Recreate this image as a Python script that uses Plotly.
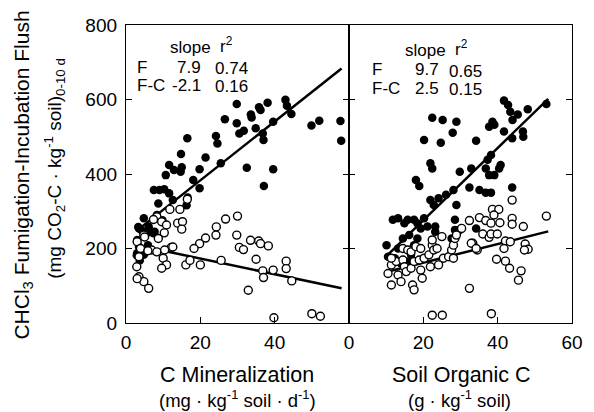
import plotly.graph_objects as go
from plotly.subplots import make_subplots

# ---- data -------------------------------------------------------------
# Left panel: C mineralization (mg kg-1 soil d-1) vs flush
left_F_x = [29.8, 35.8, 38.1, 42.9, 43.3, 44.5, 33.6, 33.8, 36.2, 26.6, 29.8, 30.5, 31.7,
            34.9, 36.8, 37.0, 39.6, 49.9, 52.0, 57.7, 57.9, 16.5, 24.2, 24.6, 21.4, 14.8,
            11.6, 12.9, 15.0, 14.7, 10.7, 19.8, 25.5, 32.5, 39.6, 37.1, 18.1, 19.8,
            7.5, 9.0, 10.3, 11.6, 8.7, 12.6, 16.3, 16.6, 4.8, 3.3, 3.5, 6.1, 4.2, 5.5,
            6.3, 7.4, 4.8, 3.5, 3.0, 4.8, 8.3, 3.0, 2.9, 3.7, 7.7, 9.8, 5.9]
left_F_y = [588, 579, 591, 599, 583, 561, 560, 552, 572, 547, 536, 509, 516,
            523, 509, 491, 540, 530, 543, 542, 489, 496, 502, 482, 444, 454,
            424, 411, 418, 406, 397, 413, 429, 417, 413, 368, 384, 362,
            357, 357, 359, 348, 321, 330, 316, 337, 281, 258, 254, 259, 249, 240,
            249, 241, 232, 205, 187, 183, 290, 223, 182, 168, 245, 276, 209]

left_FC_x = [30.0, 26.8, 24.3, 24.2, 21.4, 19.8, 18.3, 29.8, 30.5, 31.6, 33.5, 35.7, 36.2,
             38.3, 25.6, 35.0, 36.8, 37.0, 39.6, 43.1, 43.1, 44.6, 32.9, 39.8, 50.0, 52.3,
             16.5, 14.5, 11.8, 8.3, 7.4, 9.6, 10.9, 13.9, 15.2, 15.0, 8.7, 10.3, 4.8,
             3.0, 3.9, 3.5, 2.9, 3.5, 4.8, 6.1, 6.9, 8.3, 10.0, 10.9, 9.6, 12.2, 10.4,
             16.1, 20.0, 12.6, 17.2, 5.9, 3.0, 5.0]
left_FC_y = [287, 279, 258, 236, 228, 213, 200, 236, 203, 197, 222, 220, 213,
             207, 168, 171, 140, 122, 142, 166, 146, 113, 88, 14, 25, 18,
             332, 305, 305, 285, 278, 272, 263, 268, 272, 252, 227, 242, 236,
             218, 200, 178, 151, 124, 111, 93, 196, 191, 174, 156, 147, 203, 196,
             156, 156, 204, 168, 194, 119, 231]

# Right panel: soil organic C (g kg-1 soil) vs flush
right_F_x = [41.7, 42.8, 43.4, 44.0, 45.4, 48.1, 53.1, 22.4, 25.2, 28.9, 27.9, 20.2, 24.7,
             34.2, 38.6, 39.1, 37.7, 41.7, 43.9, 46.8, 46.9, 38.2, 37.3, 40.8, 40.4, 36.8,
             37.7, 39.1, 21.9, 22.4, 18.0, 18.9, 29.8, 32.9, 26.1, 28.1, 32.4, 35.1, 36.8,
             38.2, 43.9, 21.9, 22.8, 24.1, 28.9,
             11.8, 13.2, 14.9, 15.8, 17.5, 18.4, 19.3, 20.2, 21.1, 23.2, 23.2, 28.5, 28.5,
             29.8, 27.6, 10.1, 10.5, 12.3, 14.0, 15.8, 16.7, 13.2, 17.5, 18.4, 16.2, 14.5,
             34.2]
right_F_y = [597, 585, 567, 545, 560, 574, 588, 551, 545, 540, 511, 491, 484,
             489, 540, 532, 527, 514, 496, 514, 500, 451, 438, 424, 415, 415,
             397, 397, 429, 415, 384, 368, 406, 415, 344, 357, 364, 357, 350,
             350, 364, 330, 317, 335, 317,
             277, 281, 268, 277, 277, 268, 254, 281, 259, 259, 245, 277, 250,
             250, 227, 209, 178, 174, 160, 165, 183, 200, 209, 227, 236, 227,
             254]

right_FC_x = [43.9, 53.1, 38.6, 40.3, 39.0, 35.1, 36.8, 38.2, 40.6, 43.9, 43.9, 46.9, 32.4,
              36.0, 37.7, 38.2, 39.9, 42.1, 43.4, 41.7, 47.4, 48.2, 47.2, 33.3, 34.5, 39.7,
              42.1, 43.2, 46.3, 45.6, 32.4, 38.3, 22.4, 25.1,
              11.4, 10.5, 11.4, 13.2, 12.7, 14.5, 14.9, 15.4, 14.0, 16.7, 17.5, 18.9, 19.3,
              19.7, 17.1, 17.5, 20.2, 21.5, 22.4, 22.8, 23.7, 24.1, 21.9, 25.4, 26.8, 28.1,
              27.6, 28.1, 28.5, 28.9, 30.3, 32.9, 34.2, 11.4, 14.5, 15.8, 16.7, 18.0, 19.3,
              25.0, 22.4]
right_FC_y = [330, 287, 305, 305, 290, 283, 275, 268, 269, 281, 265, 259, 275,
              239, 230, 239, 239, 220, 218, 200, 212, 198, 196, 214, 196, 171,
              166, 147, 140, 115, 93, 25, 21, 21,
              156, 133, 102, 129, 165, 169, 151, 138, 111, 147, 165, 169, 142,
              120, 102, 89, 174, 183, 209, 196, 200, 156, 151, 174, 178, 174,
              196, 209, 227, 236, 254, 214, 200, 174, 200, 196, 191, 205, 200,
              232, 223]

# Regression summaries: slope, r2, intercept, fitted x-span
left_slope = [7.9, -2.1]
left_r2 = [0.74, 0.16]
left_icpt = [225, 215]
left_span = [[3, 58], [3, 58]]

right_slope = [9.7, 2.5]
right_r2 = [0.65, 0.15]
right_icpt = [82, 112]
right_span = [[10, 53.6], [10, 53.6]]

x_ticks_left = [0, 20, 40]
x_ticks_right = [0, 20, 40, 60]
y_ticks = [0, 200, 400, 600, 800]

# ---- figure -----------------------------------------------------------
FONT = "Liberation Sans, Arial, Helvetica, sans-serif"
W, H = 594, 412
L, R, T, B = 126, 583, 25, 323

fig = make_subplots(rows=1, cols=2, shared_yaxes=True, horizontal_spacing=0)

filled = dict(color="black", size=8.5, line=dict(width=0))
hollow = dict(color="white", size=8, line=dict(color="black", width=1.4))


def add_panel(col, fx, fy, cx, cy, slopes, icpts, spans):
    fig.add_trace(go.Scatter(x=fx, y=fy, mode="markers", marker=filled,
                             showlegend=False, cliponaxis=False), row=1, col=col)
    for s, b, (x0, x1) in zip(slopes, icpts, spans):
        fig.add_trace(go.Scatter(x=[x0, x1], y=[b + s * x0, b + s * x1], mode="lines",
                                 line=dict(color="black", width=2.5),
                                 showlegend=False), row=1, col=col)
    fig.add_trace(go.Scatter(x=cx, y=cy, mode="markers", marker=hollow,
                             showlegend=False, cliponaxis=False), row=1, col=col)


add_panel(1, left_F_x, left_F_y, left_FC_x, left_FC_y, left_slope, left_icpt, left_span)
add_panel(2, right_F_x, right_F_y, right_FC_x, right_FC_y, right_slope, right_icpt, right_span)

axis_common = dict(showgrid=False, zeroline=False, showline=True, linecolor="black",
                   linewidth=1.3, ticks="inside", ticklen=6, tickwidth=1.3,
                   tickcolor="black", tickfont=dict(family=FONT, size=19, color="black"))

fig.update_xaxes(axis_common, range=[0, 60], mirror=True)
fig.update_xaxes(tickvals=x_ticks_left, ticktext=[str(v) for v in x_ticks_left], row=1, col=1)
fig.update_xaxes(tickvals=x_ticks_right, ticktext=[str(v) for v in x_ticks_right], row=1, col=2)
fig.update_yaxes(axis_common, range=[0, 800], tickvals=y_ticks, mirror="ticks")
fig.update_yaxes(showticklabels=False, row=1, col=2)
fig.update_yaxes(ticklabelstandoff=4, row=1, col=1)
fig.update_xaxes(ticklabelstandoff=2)


def paper(px, py):
    return (px - L) / (R - L), (B - py) / (B - T)


ann = []


def text(px, py, s, size=17, xanchor="center", angle=0):
    x, y = paper(px, py)
    ann.append(dict(x=x, y=y, xref="paper", yref="paper", text=s, showarrow=False,
                    xanchor=xanchor, yanchor="middle", textangle=angle,
                    font=dict(family=FONT, size=size, color="black")))


def stats_table(x_lab, x_slope_r, x_r2_l, x_head_s, x_head_r, y_rows, slopes, r2s):
    text(x_head_s, y_rows[0], "slope")
    text(x_head_r, y_rows[0] - 2, "r<sup>2</sup>")
    for lab, s, r, yy in zip(["F", "F-C"], slopes, r2s, y_rows[1:]):
        text(x_lab, yy, lab, xanchor="left")
        text(x_slope_r, yy, f"{s:.1f}", xanchor="right")
        text(x_r2_l, yy + 1.5, f"{r:.2f}", xanchor="left")


stats_table(135, 205, 215, 192, 229, [47, 67, 85], left_slope, left_r2)
stats_table(376, 449, 455, 433, 470, [50, 70, 88], right_slope, right_r2)

# axis titles
text(240, 375, "C Mineralization", size=21.5)
text(240, 399, "(mg · kg<sup>-1</sup> soil · d<sup>-1</sup>)", size=18.5)
text(470, 375, "Soil Organic C", size=21.5)
text(468, 399, "(g · kg<sup>-1</sup> soil)", size=18.5)
text(20, 175, "CHCl<sub>3</sub> Fumigation-Incubation Flush", size=21, angle=-90)
text(52, 168, "(mg CO<sub>2</sub>-C · kg<sup>-1</sup> soil)<sub>0-10 d</sub>", size=19, angle=-90)

fig.update_layout(width=W, height=H, margin=dict(l=L, r=W - R, t=T, b=H - B),
                  paper_bgcolor="white", plot_bgcolor="white", annotations=ann,
                  font=dict(family=FONT, color="black"))

fig.write_html("out.html")
